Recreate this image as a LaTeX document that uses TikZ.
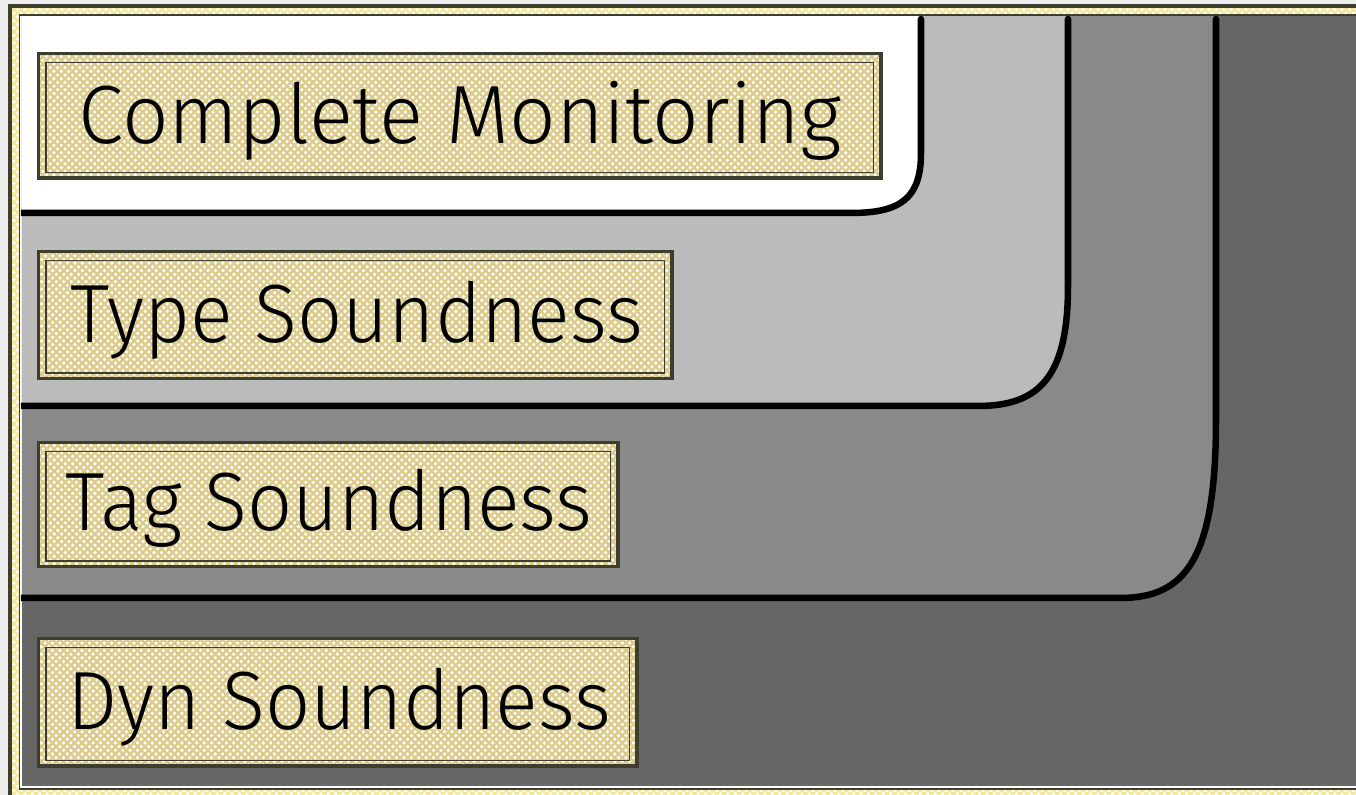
\documentclass[tikz,border=0pt]{standalone}
\usepackage{fontspec}
\setmainfont{Fira Sans}[UprightFont={* Light}, FakeStretch=0.96]

\definecolor{pagebg}{HTML}{EFEEEE}
\definecolor{framehatch}{HTML}{F4E7A0}
\definecolor{boxhatch}{HTML}{DCCB8A}
\definecolor{olive}{HTML}{3E3E2E}
\definecolor{lightgrey}{HTML}{BBBBBB}
\definecolor{midgrey}{HTML}{898989}
\definecolor{darkgrey}{HTML}{666666}

\tikzset{
  boundary/.style={draw=black, line width=1.85pt, line cap=round, line join=round},
  outerrule/.style={draw=olive, line width=1.1pt},
  innerrule/.style={draw=olive, line width=0.55pt},
  lbl/.style={anchor=base, inner sep=0pt, font=\fontsize{23.5}{28}\selectfont, text=black},
}

% diamond cross-hatching of a rectangle: left, top, right, bottom, colour
\newcommand{\hatchrect}[5]{%
  \begin{scope}
  \clip (#1,#2) rectangle (#3,#4);
  \fill[white] (#1,#2) rectangle (#3,#4);
  \pgfmathsetmacro{\hatchH}{#4-#2}
  \pgfmathtruncatemacro{\hatchN}{(#3-#1+\hatchH)/7.4+1}
  \foreach \i in {0,...,\hatchN}{
    \pgfmathsetmacro{\hatchX}{#1-\hatchH+\i*7.4}
    \draw[#5, line width=0.66pt] (\hatchX,#4) -- (\hatchX+\hatchH,#2);
    \draw[#5, line width=0.66pt] (\hatchX,#2) -- (\hatchX+\hatchH,#4);
  }
  \end{scope}}

\begin{document}
\begin{tikzpicture}[x=0.01cm,y=-0.01cm]
\useasboundingbox (0,0) rectangle (1356,795);
\fill[pagebg] (0,0) rectangle (1356,795);

% outer double frame with hatched band
\hatchrect{10}{6}{1370}{805}{framehatch}
\draw[outerrule] (10,6) rectangle (1370,805);
\fill[white] (19.5,15) rectangle (1370,789);
\draw[innerrule] (19.5,15) rectangle (1370,789);

% nested regions
\begin{scope}
\clip (22,16.5) rectangle (1370,786);
\fill[darkgrey] (22,16.5) rectangle (1370,786);
\fill[midgrey] (0,0) -- (1216,0) -- (1216,420)
  .. controls (1216,560) and (1185,598) .. (1120,598) -- (0,598) -- cycle;
\fill[lightgrey] (0,0) -- (1068,0) -- (1068,286)
  .. controls (1068,376) and (1040,406) .. (978,406) -- (0,406) -- cycle;
\fill[white] (0,0) -- (921,0) -- (921,153)
  .. controls (921,198) and (901,213) .. (851,213) -- (0,213) -- cycle;
\end{scope}

\coordinate (t3) at (1216,19);
\coordinate (e3) at (18,598);
\coordinate (t2) at (1068,19);
\coordinate (e2) at (18,406);
\coordinate (t1) at (921,19);
\coordinate (e1) at (18,213);

\begin{scope}
\clip (21,0) rectangle (1370,786);
\draw[boundary] (t3) -- (1216,420)
  .. controls (1216,560) and (1185,598) .. (1120,598) -- (e3);
\draw[boundary] (t2) -- (1068,286)
  .. controls (1068,376) and (1040,406) .. (978,406) -- (e2);
\draw[boundary] (t1) -- (921,153)
  .. controls (921,198) and (901,213) .. (851,213) -- (e1);
\end{scope}

% label boxes: hatched fill, thick outer rule, thin inner rule
\foreach \xl/\yt/\xr/\yb/\nm in {38.5/53.5/881/178/cmbox, 38.5/251.5/672/378.5/tybox, 38.5/442.5/618/566.5/tgbox, 38.5/638.5/637/766/dybox}{
  \hatchrect{\xl}{\yt}{\xr}{\yb}{boxhatch}
  \draw[outerrule] (\xl,\yt) rectangle (\xr,\yb);
  \draw[innerrule] (\xl+7.5,\yt+9) rectangle (\xr-7.5,\yb-5.5);
  \coordinate (\nm) at ({(\xl+\xr)/2},\yb);
}

\node[lbl] (cm) at (460,144) {\addfontfeatures{FakeStretch=0.99}Complete Monitoring};
\node[lbl] (ty) at (357,342.5) {Type Soundness};
\node[lbl] (tg) at (329,531) {Tag Soundness};
\node[lbl] (dy) at (339,730) {Dyn Soundness};
\end{tikzpicture}
\end{document}
